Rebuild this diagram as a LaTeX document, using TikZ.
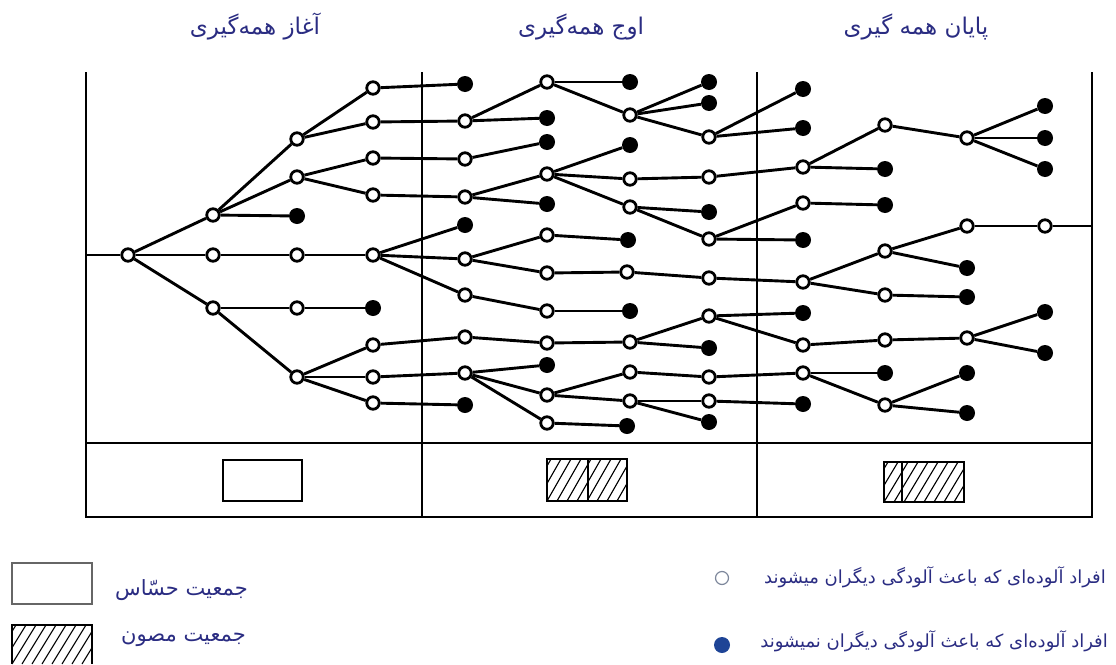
\documentclass[tikz,border=0pt]{standalone}
\usepackage{fontspec}
\newfontfamily\arabicfont[Script=Arabic]{DejaVu Sans}
\TeXXeTstate=1
\definecolor{txtblue}{RGB}{42,44,130}
\definecolor{legblue}{RGB}{30,68,150}
\definecolor{leggray}{RGB}{125,135,155}
\newcommand\myhatch[4]{%
  \begin{scope}
    \clip (#1,#2) rectangle (#3,#4);
    \foreach \k in {-40,-30,...,100} \draw[line width=1.1pt] ({#1+\k},#4) -- ({#1+\k+24},#2);
  \end{scope}}
\tikzset{
  onode/.style={circle, draw=black, fill=white, line width=2.8pt, inner sep=0pt, minimum size=12.5pt},
  fnode/.style={circle, fill=black, inner sep=0pt, minimum size=16pt},
  edge/.style={line width=2.9pt},
  frame/.style={line width=2.6pt},
  thinbox/.style={line width=1.3pt},
  ftext/.style={text=txtblue, inner sep=0pt},
  tsize/.style={font=\arabicfont\fontsize{23}{26}\selectfont},
  lsize/.style={font=\arabicfont\fontsize{21}{24}\selectfont},
  rsize/.style={font=\arabicfont\fontsize{18}{22}\selectfont},
}
\begin{document}
\begin{tikzpicture}[x=1pt,y=-1pt]
\useasboundingbox (0,0) rectangle (1116,664);
% frame
\draw[frame] (86,72) -- (86,517) -- (1092,517) -- (1092,72);
\draw[frame] (422,72) -- (422,517);
\draw[frame] (757,72) -- (757,517);
\draw[frame] (86,443) -- (1092,443);
% titles
\node[ftext, tsize] (t1) at (255,27) {\beginR آغاز همه‌گیری\endR};
\node[ftext, tsize] (t2) at (581,27) {\beginR اوج همه‌گیری\endR};
\node[ftext, tsize] (t3) at (916,27) {\beginR پایان همه گیری\endR};
% open nodes
\foreach \n/\x/\y in {r0/128/255, b1/213/215, b2/213/255, b3/213/308,
  c1/297/139, c2/297/177, c4/297/255, c5/297/308, c6/297/377,
  d1/373/88, d2/373/122, d3/373/158, d4/373/195, d5/373/255, d7/373/345, d8/373/377, d9/373/403,
  e2/465/121, e3/465/159, e4/465/197, e6/465/259, e7/465/295, e8/465/337, e9/465/373,
  f1/547/82, f4/547/174, f6/547/235, f7/547/273, f8/547/311, f9/547/343, f11/547/395, f12/547/423,
  g2/630/115, g4/630/179, g5/630/207, g7/627/272, g9/630/342, g10/630/372, g11/630/401,
  h3/709/137, h4/709/177, h6/709/239, h7/709/278, h8/709/316, h10/709/377, h11/709/401,
  i3/803/167, i4/803/203, i6/803/282, i8/803/345, i9/803/373,
  j1/885/125, j4/885/251, j5/885/295, j6/885/340, j8/885/405,
  k1/967/138, k2/967/226, k5/967/338,
  l4/1045/226}
  \node[onode] (\n) at (\x,\y) {};
% filled nodes
\foreach \n/\x/\y in {c3/297/216, d6/373/308,
  e1/465/84, e5/465/225, e10/465/405,
  f2/547/118, f3/547/142, f5/547/204, f10/547/365,
  g1/630/82, g3/630/145, g6/628/240, g8/630/311, g12/627/426,
  h1/709/82, h2/709/103, h5/709/212, h9/709/348, h12/709/422,
  i1/803/89, i2/803/128, i5/803/240, i7/803/313, i10/803/404,
  j2/885/169, j3/885/205, j7/885/373,
  k3/967/268, k4/967/297, k6/967/373, k7/967/413,
  l1/1045/106, l2/1045/138, l3/1045/169, l5/1045/312, l6/1045/353}
  \node[fnode] (\n) at (\x,\y) {};
\coordinate (lb) at (86,255);
\coordinate (rb) at (1092,226);
% edges
\foreach \a/\b in {lb/r0, r0/b1, r0/b2, r0/b3,
  b1/c1, b1/c2, b1/c3, b2/c4, b3/c5, b3/c6,
  c1/d1, c1/d2, c2/d3, c2/d4, c4/d5, c5/d6, c6/d7, c6/d8, c6/d9,
  d1/e1, d2/e2, d3/e3, d4/e4, d5/e5, d5/e6, d5/e7, d7/e8, d8/e9, d9/e10,
  e2/f1, e2/f2, e3/f3, e4/f4, e4/f5, e6/f6, e6/f7, e7/f8, e8/f9, e9/f10, e9/f11, e9/f12,
  f1/g1, f1/g2, f4/g3, f4/g4, f4/g5, f6/g6, f7/g7, f8/g8, f9/g9, f11/g10, f11/g11, f12/g12,
  g2/h1, g2/h2, g2/h3, g4/h4, g5/h5, g5/h6, g7/h7, g9/h8, g9/h9, g10/h10, g11/h11, g11/h12,
  h3/i1, h3/i2, h4/i3, h6/i4, h6/i5, h7/i6, h8/i7, h8/i8, h10/i9, h11/i10,
  i3/j1, i3/j2, i4/j3, i6/j4, i6/j5, i8/j6, i9/j7, i9/j8,
  j1/k1, j4/k2, j4/k3, j5/k4, j6/k5, j8/k6, j8/k7,
  k1/l1, k1/l2, k1/l3, k2/l4, k5/l5, k5/l6, l4/rb}
  \draw[edge] (\a) -- (\b);
% lower band boxes
\draw[thinbox] (223,460) rectangle (302,501);
\myhatch{547}{459}{627}{501}
\draw[thinbox] (547,459) rectangle (627,501);
\draw[thinbox] (588,459) -- (588,501);
\myhatch{884}{462}{964}{502}
\draw[thinbox] (884,462) rectangle (964,502);
\draw[thinbox] (902,462) -- (902,502);
% legend left
\draw[line width=1.5pt, draw=gray!80!black] (12,563) rectangle (92,604);
\node[ftext, lsize, anchor=east] (lg1) at (248,590) {\beginR جمعیت حسّاس\endR};
\myhatch{12}{625}{92}{664}
\draw[thinbox] (12,664) -- (12,625) -- (92,625) -- (92,664);
\node[ftext, lsize, anchor=east] (lg2) at (246,639) {\beginR جمعیت مصون\endR};
% legend right
\node[circle, draw=leggray, line width=1.2pt, fill=white, inner sep=0pt, minimum size=13pt] (lo) at (722,578) {};
\node[ftext, rsize, anchor=east] (lt1) at (1106,577) {\beginR افراد آلوده‌ای که باعث آلودگی دیگران میشوند\endR};
\node[circle, fill=legblue, inner sep=0pt, minimum size=16pt] (lf) at (722,645) {};
\node[ftext, rsize, anchor=east] (lt2) at (1108,641) {\beginR افراد آلوده‌ای که باعث آلودگی دیگران نمیشوند\endR};
\end{tikzpicture}
\end{document}
